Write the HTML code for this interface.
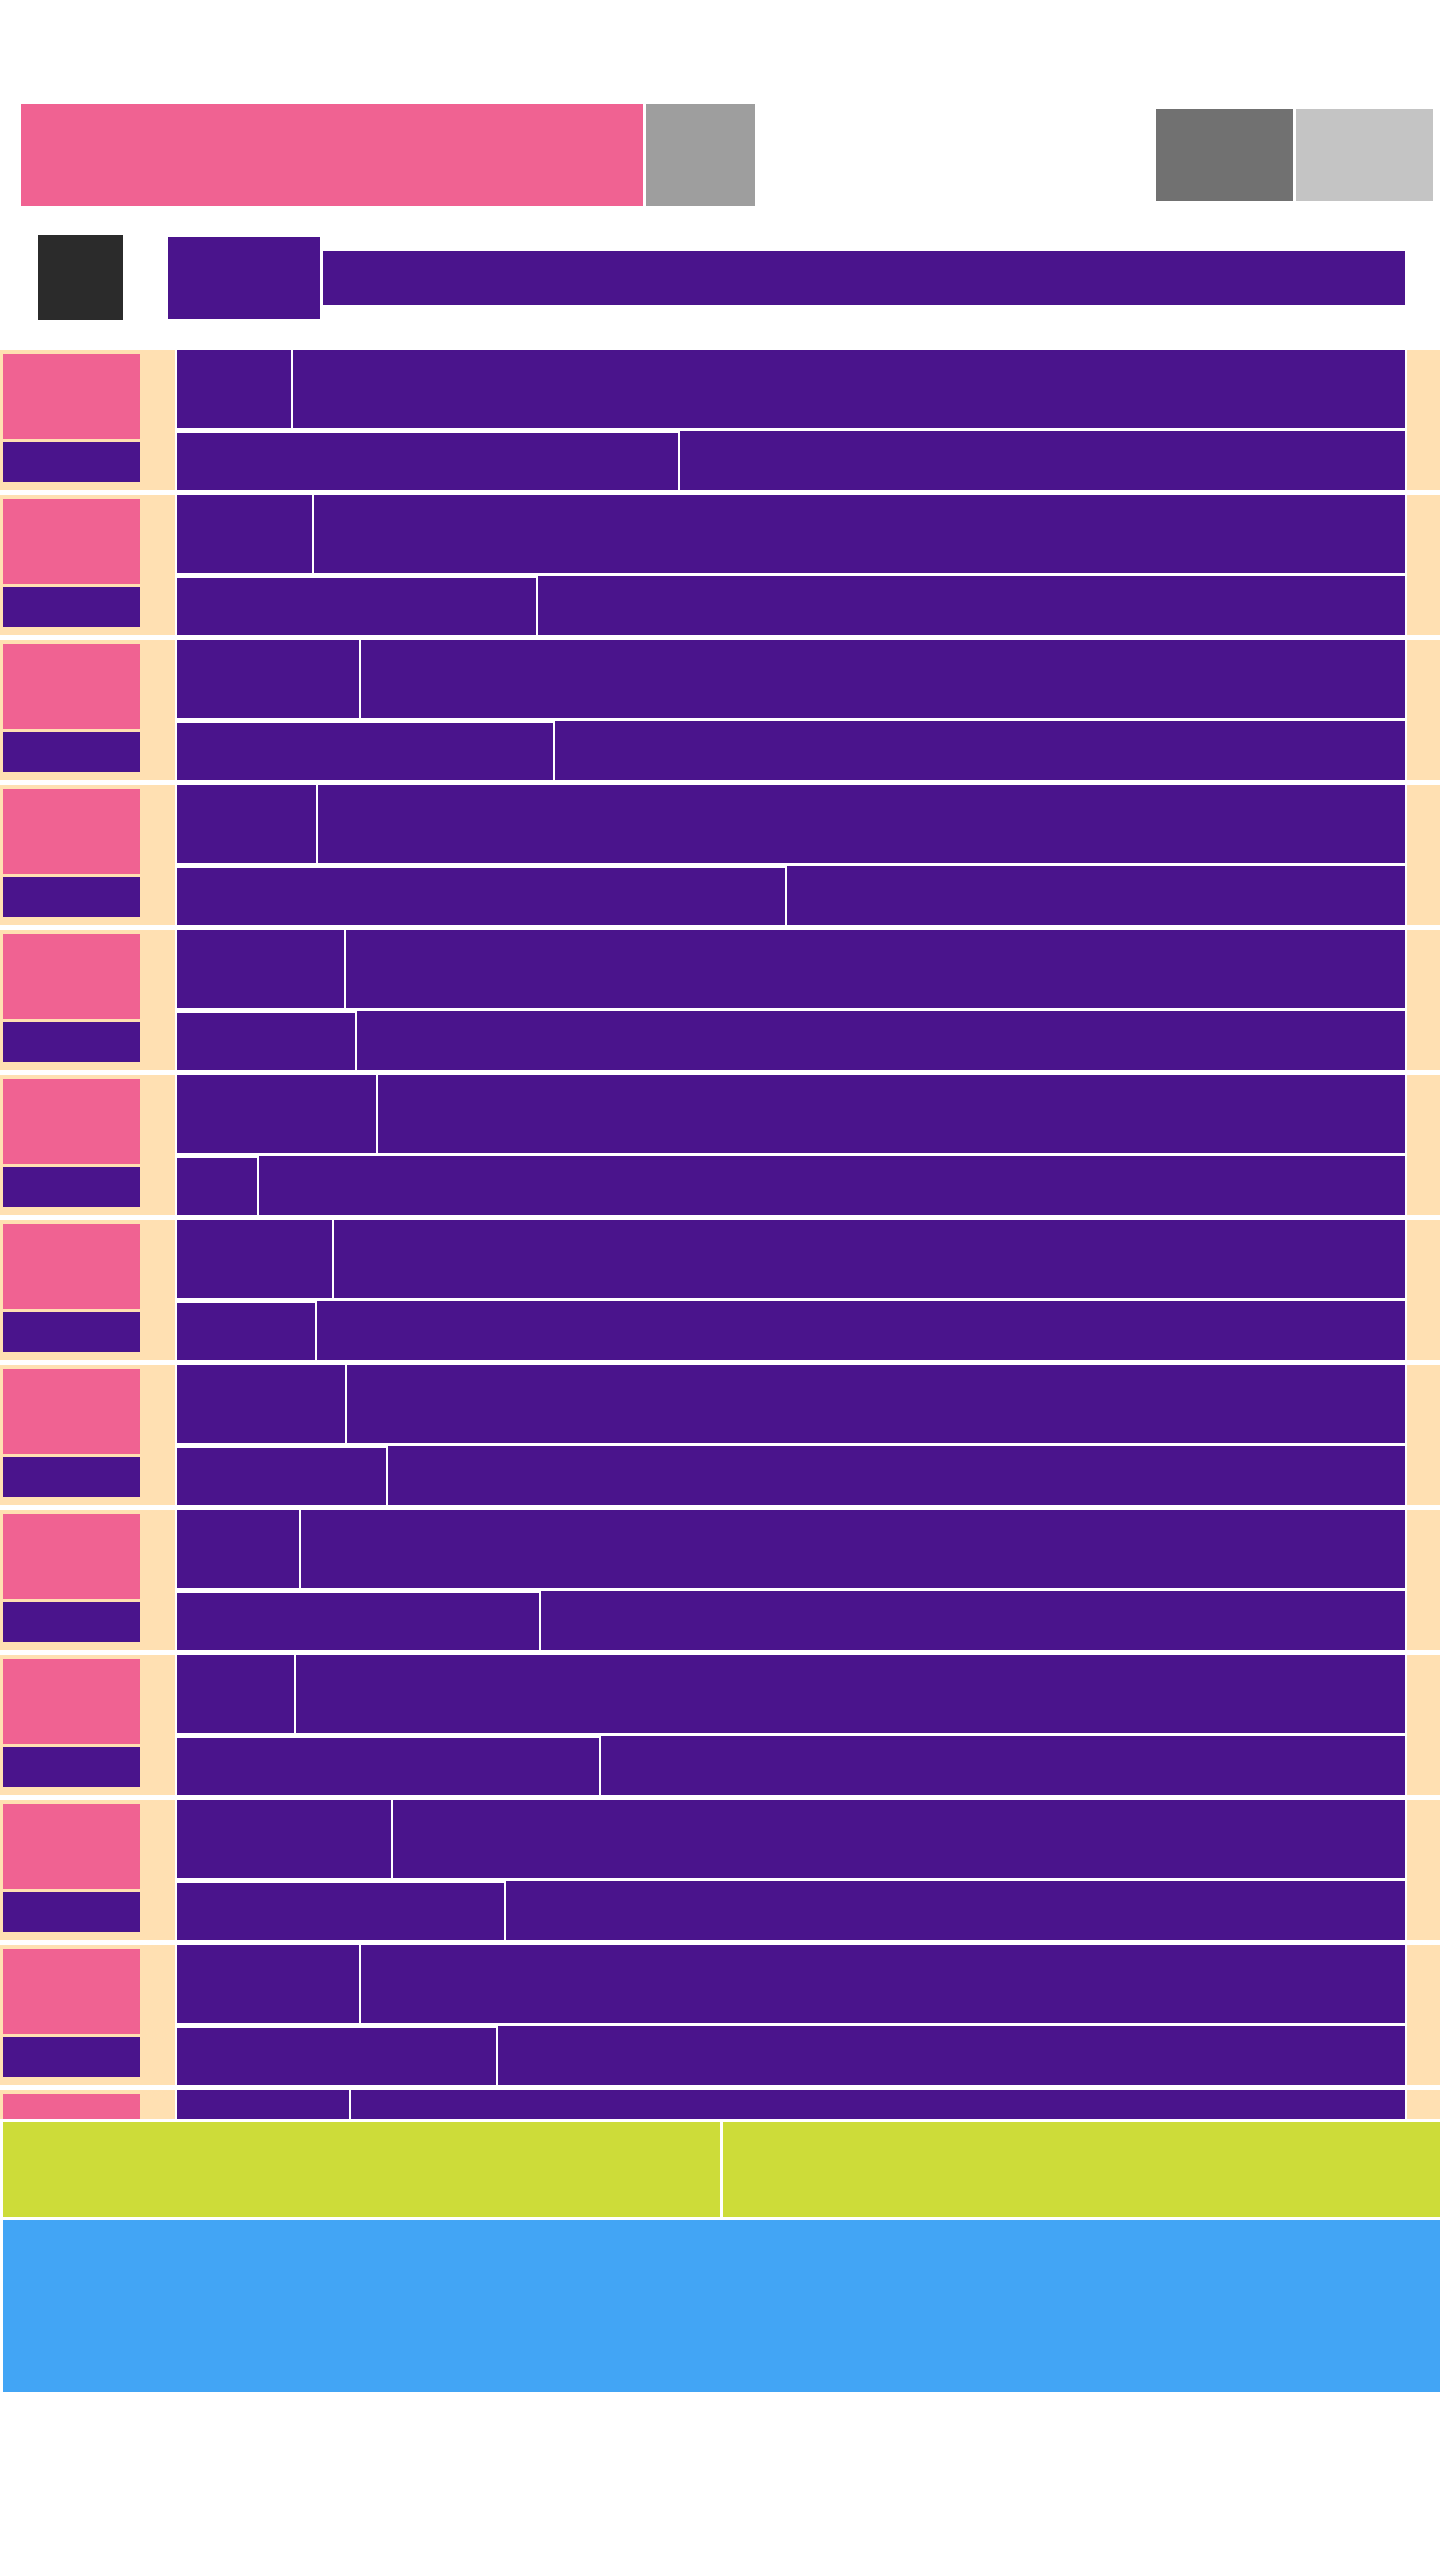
<!DOCTYPE html>
<html><head><meta charset="utf-8"><style>
html,body{margin:0;padding:0;background:#fff;width:1440px;height:2560px;overflow:hidden;font-family:"Liberation Sans",sans-serif}
.b{position:absolute;box-sizing:border-box}
</style></head><body>
<div class="b" style="left:21px;top:104px;width:622px;height:102px;background:#f06292"></div>
<div class="b" style="left:646px;top:104px;width:109px;height:102px;background:#9e9e9e"></div>
<div class="b" style="left:1156px;top:109px;width:137px;height:92px;background:#717171"></div>
<div class="b" style="left:1296px;top:109px;width:137px;height:92px;background:#c4c4c4"></div>
<div class="b" style="left:38px;top:235px;width:85px;height:85px;background:#2b2b2b"></div>
<div class="b" style="left:168px;top:237px;width:152px;height:82px;background:#4a148c"></div>
<div class="b" style="left:323px;top:251px;width:1082px;height:54px;background:#4a148c"></div>
<div id="rows" class="b" style="left:0;top:350px;width:1440px;height:1769px;overflow:hidden"></div>
<div class="b" style="left:3px;top:2122px;width:717px;height:95px;background:#cddc39"></div>
<div class="b" style="left:723px;top:2122px;width:717px;height:95px;background:#cddc39"></div>
<div class="b" style="left:3px;top:2220px;width:1437px;height:172px;background:#42a5f5"></div>
<script>
const rowLabels=["r1","r2","r3","r4","r5","r6","r7","r8","r9","r10","r11","r12","r13"];
const topValues=[9.3,11.0,14.8,11.3,13.6,16.2,12.6,13.7,9.9,9.5,17.4,14.8,14.0];
const bottomValues=[40.8,29.2,30.6,49.5,14.5,6.5,11.2,17.0,29.5,34.4,26.6,26.0,20.0];
const X0=177,X1=1405,PITCH=145;
function xs(v){return X0+(X1-X0)*v/100;}
const C=document.getElementById('rows');
function box(l,t,w,h,bg){const d=document.createElement('div');d.className='b';d.style.cssText=`left:${l}px;top:${t}px;width:${w}px;height:${h}px;background:${bg}`;C.appendChild(d);return d;}
rowLabels.forEach((r,i)=>{
 const y=i*PITCH;
 let d=box(0,y,175,140,'#ffe0b2');
 
 
 d=box(1407,y,33,140,'#ffe0b2');
 
 
 d=box(3,y+4,137,85,'#f06292');
 
 
 d=box(3,y+92,137,40,'#4a148c');
 
 
 const s1=xs(topValues[i]);
 d=box(X0,y,s1-X0,78,'#4a148c');
 
 
 d=box(s1+2,y,X1-s1-2,78,'#4a148c');
 
 
 const s2=xs(bottomValues[i]);
 d=box(X0,y+83,s2-X0,57,'#4a148c');
 
 
 d=box(s2+2,y+81,X1-s2-2,59,'#4a148c');
 
 
});
</script>
</body></html>
